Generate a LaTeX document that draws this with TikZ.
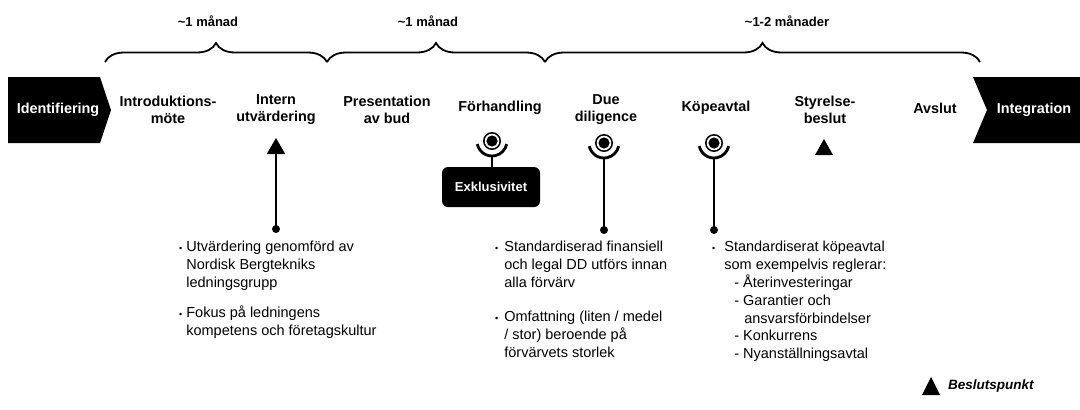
\documentclass[tikz,border=0pt]{standalone}
\usepackage{fontspec}
\setmainfont{Liberation Sans}
\usetikzlibrary{decorations.pathreplacing,arrows.meta}
\begin{document}
\begin{tikzpicture}[x=1pt,y=-1pt,
  hdr/.style={font=\fontsize{14.4}{17}\selectfont\bfseries, align=center, inner sep=0pt},
  dur/.style={font=\fontsize{13}{16}\selectfont\bfseries, inner sep=0pt},
  body/.style={font=\fontsize{14.5}{18}\selectfont, align=left, inner sep=0pt, anchor=north west},
  chev/.style={fill=black},
  brc/.style={decorate, decoration={brace, amplitude=19pt, aspect=0.5}, line width=1.8pt},
  stem/.style={line width=2.4pt},
  dot/.style={circle, fill=black, inner sep=0pt, minimum size=8pt},
  ring/.pic={
    \fill (0,0) circle (9);
    \fill[white] (0,0) circle (7.3);
    \fill (0,0) circle (5.6);
    \draw[line width=2.8pt] (168:15) arc[start angle=168,end angle=12,radius=15];
  }
]
\useasboundingbox (0,0) rectangle (1080,410);

% chevrons
\fill[chev] (8,77) -- (100,77) -- (111,110) -- (100,143) -- (8,143) -- cycle;
\fill[chev] (973,77) -- (1080,77) -- (1080,143) -- (973,143) -- (987,110) -- cycle;
\node[hdr, text=white] (ident) at (58,110) {Identifiering};
\node[hdr, text=white] (integ) at (1034,110) {Integration};

% braces
\draw[brc] (105,62) -- (327,62);
\draw[brc] (327,62) -- (545,62);
\draw[brc] (545,62) -- (980,62);
\node[dur] (d1) at (208,21) {\textasciitilde1 månad};
\node[dur] (d2) at (428,21) {\textasciitilde1 månad};
\node[dur] (d3) at (787,21) {\textasciitilde1-2 månader};

% step labels
\node[hdr] (intro) at (168,109.5) {Introduktions-\\möte};
\node[hdr] (intern) at (276,109.5) {Intern\\utvärdering};
\node[hdr] (pres) at (387,109.5) {Presentation\\av bud};
\node[hdr] (forh) at (500,108) {Förhandling};
\node[hdr] (due) at (606,109.5) {Due\\diligence};
\node[hdr] (kop) at (716,108) {Köpeavtal};
\node[hdr] (styr) at (825,109.5) {Styrelse-\\beslut};
\node[hdr] (avsl) at (935,108) {Avslut};

% intern arrow
\node[dot] (intdot) at (276,229) {};
\coordinate (inttip) at (276,138);
\draw[line width=2.4pt, -{Triangle[width=18pt,length=16pt]}] (intdot.center) -- (inttip);

% forhandling icon
\pic at (492,141) {ring};
\coordinate (forhbot) at (492,156);
\node[fill=black, rounded corners=6pt, minimum width=98pt, minimum height=40pt, inner sep=0pt,
      text=white, font=\fontsize{13}{16}\selectfont\bfseries] (exkl) at (491,187) {Exklusivitet};
\draw[line width=2pt] (forhbot) -- (exkl.north -| forhbot);

% due diligence icon
\pic at (604,143) {ring};
\coordinate (duebot) at (604,158);
\node[dot] (duedot) at (604,230) {};
\draw[stem] (duebot) -- (duedot.center);

% kopeavtal icon
\pic at (714,143) {ring};
\coordinate (kopbot) at (714,158);
\node[dot] (kopdot) at (714,230) {};
\draw[stem] (kopbot) -- (kopdot.center);

% styrelse triangle
\fill (815,155) -- (833,155) -- (824,139) -- cycle;

% bullet texts
\node[body] (inttxt) at (179,239) {\begin{tabular}{@{}l@{\hspace{4pt}}l@{}}
\raisebox{0.5pt}{\small•} & Utvärdering genomförd av\\
 & Nordisk Bergtekniks\\
 & ledningsgrupp\\[12pt]
\raisebox{0.5pt}{\small•} & Fokus på ledningens\\
 & kompetens och företagskultur
\end{tabular}};

\node[body] (duetxt) at (495,239) {\begin{tabular}{@{}l@{\hspace{6pt}}l@{}}
\raisebox{0.5pt}{\small•} & Standardiserad finansiell\\
 & och legal DD utförs innan\\
 & alla förvärv\\[16pt]
\raisebox{0.5pt}{\small•} & Omfattning (liten / medel\\
 & / stor) beroende på\\
 & förvärvets storlek
\end{tabular}};

\node[body, font=\fontsize{14.5}{17.8}\selectfont] (koptxt) at (712,239) {\begin{tabular}{@{}l@{\hspace{9pt}}l@{}}
\raisebox{0.5pt}{\small•} & Standardiserat köpeavtal\\
 & som exempelvis reglerar:\\
 & \hspace{10pt}- Återinvesteringar\\
 & \hspace{10pt}- Garantier och\\
 & \hspace{20pt}ansvarsförbindelser\\
 & \hspace{10pt}- Konkurrens\\
 & \hspace{10pt}- Nyanställningsavtal
\end{tabular}};

% legend
\fill (922,395) -- (940,395) -- (931,377) -- cycle;
\node[font=\fontsize{13.5}{16}\selectfont\bfseries\itshape, anchor=west, inner sep=0pt] (legend) at (948,386) {Beslutspunkt};
\end{tikzpicture}
\end{document}
